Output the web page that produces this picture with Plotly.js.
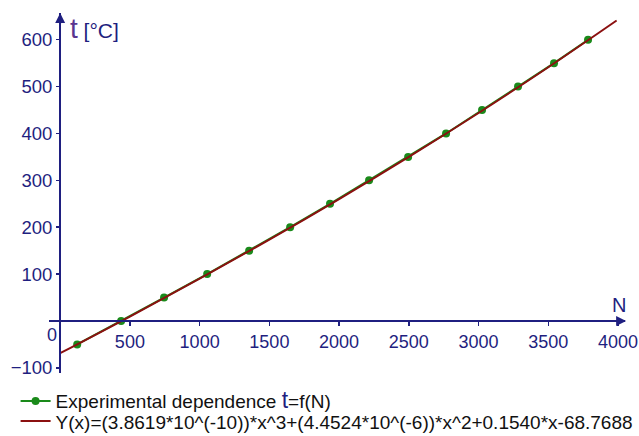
<!DOCTYPE html>
<html>
<head>
<meta charset="utf-8">
<script src="https://cdn.plot.ly/plotly-3.0.1.min.js"></script>
<style>html,body{margin:0;padding:0;background:#fff;}#chart{width:639px;height:436px;}</style>
</head>
<body>
<div id="chart"></div>
<script>
// Experimental points
const expN = [122, 437, 745, 1054, 1355, 1649, 1935, 2215, 2495, 2767, 3025, 3283, 3541, 3785];
const expT = [-50, 0, 50, 100, 150, 200, 250, 300, 350, 400, 450, 500, 550, 600];
// Fitted curve, points
const fitN = [0, 500, 1000, 1500, 2000, 2500, 3000, 3500, 3990];
const fitT = [-68.8, 9.4, 90.1, 173.5, 260.1, 350.1, 443.7, 541.3, 641];
const xTicks = [500, 1000, 1500, 2000, 2500, 3000, 3500, 4000];
const yTicks = [-100, 100, 200, 300, 400, 500, 600];
const expName = 'Experimental dependence <span style="font-size:23px;color:#1f1f80">t</span>=f(N)';
const fitName = 'Y(x)=(3.8619*10^(-10))*x^3+(4.4524*10^(-6))*x^2+0.1540*x-68.7688';

const navy = '#1f1f80';
const traces = [
  {x: expN, y: expT, mode: 'lines+markers', name: expName, legend: 'legend',
   line: {color: '#1a8a1a', width: 2}, marker: {color: '#1a8a1a', size: 8}},
  {x: fitN, y: fitT, mode: 'lines', name: fitName, legend: 'legend2',
   line: {color: '#8b1010', width: 2, shape: 'spline'}}
];
const legFont = {size: 19, color: '#111', family: 'Liberation Sans, Arial, sans-serif'};
const layout = {
  width: 639, height: 436,
  margin: {l: 49, r: 14, t: 13, b: 63, autoexpand: false},
  paper_bgcolor: '#fff', plot_bgcolor: '#fff',
  font: {family: 'Liberation Sans, Arial, sans-serif', color: navy, size: 18},
  showlegend: true,
  legend: {x: -0.058, xanchor: 'left', y: -0.078, yanchor: 'middle',
           font: legFont, bgcolor: 'rgba(0,0,0,0)'},
  legend2: {x: -0.058, xanchor: 'left', y: -0.134, yanchor: 'middle',
           font: legFont, bgcolor: 'rgba(0,0,0,0)'},
  xaxis: {range: [-80, 4050], anchor: 'free', position: 0.1444, showgrid: false, zeroline: false,
          showline: true, linecolor: navy, linewidth: 2, tickmode: 'array', tickvals: xTicks,
          ticks: 'outside', ticklen: 4, tickwidth: 1.5, tickcolor: navy,
          tickfont: {size: 18, color: navy}},
  yaxis: {range: [-111, 657], anchor: 'free', position: 0.0191, showgrid: false, zeroline: false,
          showline: true, linecolor: navy, linewidth: 2, tickmode: 'array', tickvals: yTicks,
          ticks: 'outside', ticklen: 3, tickwidth: 1.5, tickcolor: navy,
          tickfont: {size: 18.5, color: navy}},
  annotations: [
    {xref: 'paper', yref: 'y', x: 1.002, y: 0, ax: -12, ay: 0, text: '', showarrow: true,
     arrowhead: 2, arrowsize: 1, arrowwidth: 2, arrowcolor: navy},
    {xref: 'x', yref: 'paper', x: 0, y: 1.0, ax: 0, ay: 12, text: '', showarrow: true,
     arrowhead: 2, arrowsize: 1, arrowwidth: 2, arrowcolor: navy},
    {xref: 'paper', yref: 'paper', x: 0.033, y: 1.005, xanchor: 'left', yanchor: 'top', showarrow: false,
     text: '<span style="color:#5a3590;font-size:28px">t</span><span style="font-size:21px"> [°C]</span>',
     font: {color: navy}},
    {xref: 'x', yref: 'y', x: 4007, y: 34, showarrow: false, text: 'N', font: {size: 20, color: navy}},
    {xref: 'x', yref: 'y', x: -57, y: -30, showarrow: false, text: '0', font: {size: 18, color: navy}}
  ]
};
Plotly.newPlot('chart', traces, layout, {displayModeBar: false, staticPlot: true});
</script>
</body>
</html>
